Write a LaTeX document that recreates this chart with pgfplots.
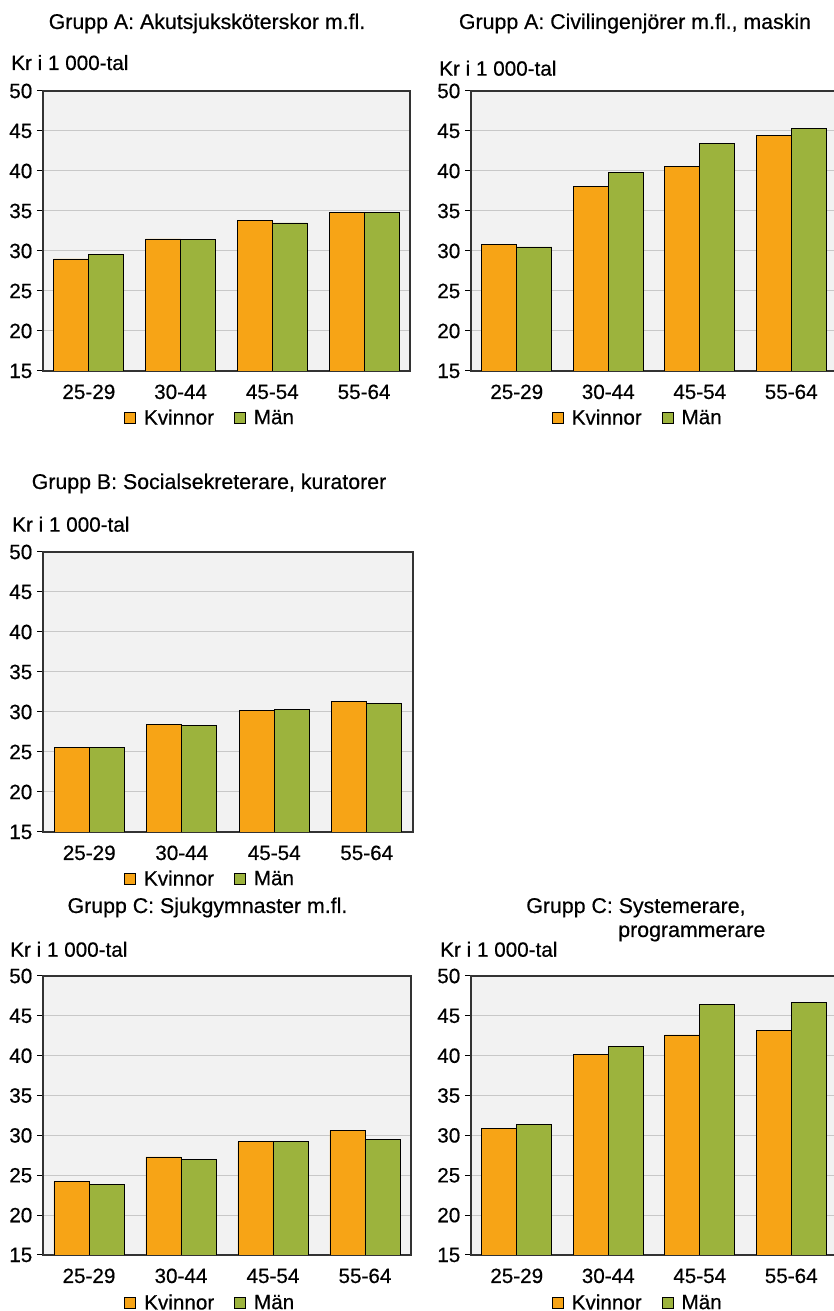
\documentclass[border=0pt]{standalone}
\usepackage{fontspec}
\setmainfont{Liberation Sans}
\newfontfamily\mf{Liberation Sans}[FakeBold=0.5]
\usepackage{pgfplots}
\pgfplotsset{compat=1.18}
\definecolor{kv}{HTML}{F7A416}
\definecolor{ma}{HTML}{9CB33D}
\definecolor{bg}{HTML}{F2F2F2}
\definecolor{gridc}{HTML}{C8C8C8}
\definecolor{framec}{HTML}{333333}
\newcommand{\fs}{\mf\fontsize{15.5}{18}\selectfont}
\newcommand{\ft}{\mf\fontsize{16}{19}\selectfont}
\pgfplotsset{
  panel/.style={
    scale only axis, height=210pt,
    ymin=15, ymax=50, ytick={15,20,...,50},
    xmin=-0.5, xmax=3.5, xtick={0,1,2,3}, xticklabels={25-29,30-44,45-54,55-64},
    ybar=0pt, bar width=26.25pt,
    axis background/.style={fill=bg},
    ymajorgrids, grid style={gridc, line width=0.75pt},
    axis line style={framec, line width=0.9pt},
    tick align=outside, major tick length=4.5pt, ytick pos=left,
    ytick style={black, line width=0.75pt},
    xtick style={draw=none},
    /pgf/number format/assume math mode=true,
    ticklabel style={font=\fs},
    xticklabel style={anchor=base, yshift=-16.5pt},
    legend style={draw=none, fill=none, font=\fs, legend columns=2, inner sep=0pt, anchor=west,
      /tikz/every odd column/.append style={column sep=4pt},
      /tikz/every even column/.append style={column sep=13pt}},
    legend image code/.code={\draw[#1, draw=black, line width=0.6pt] (0pt,-4.1pt) rectangle (8.2pt,4.1pt);},
    anchor=south west,
  },
  kvs/.style={fill=kv, draw=black, line width=0.6pt},
  mas/.style={fill=ma, draw=black, line width=0.6pt},
}
\begin{document}
\begin{tikzpicture}
\useasboundingbox (0,0) rectangle (625.5pt,983.25pt);
% Panel 1
\begin{axis}[panel, width=275.25pt, at={(32.25pt,705pt)},
  legend style={at={(0.2207,-0.168)}}]
\addplot[kvs] coordinates {(0,29.0) (1,31.5) (2,33.8) (3,34.8)};
\addplot[mas] coordinates {(0,29.6) (1,31.4) (2,33.5) (3,34.8)};
\legend{Kvinnor,Män}
\end{axis}
% Panel 2
\begin{axis}[panel, width=274.5pt, at={(353.25pt,705pt)},
  legend style={at={(0.2205,-0.168)}}]
\addplot[kvs] coordinates {(0,30.8) (1,38.1) (2,40.6) (3,44.4)};
\addplot[mas] coordinates {(0,30.5) (1,39.8) (2,43.4) (3,45.3)};
\legend{Kvinnor,Män}
\end{axis}
% Panel 3
\begin{axis}[panel, width=277.5pt, at={(32.25pt,359.25pt)},
  legend style={at={(0.219,-0.168)}}]
\addplot[kvs] coordinates {(0,25.6) (1,28.4) (2,30.2) (3,31.3)};
\addplot[mas] coordinates {(0,25.6) (1,28.3) (2,30.3) (3,31.1)};
\legend{Kvinnor,Män}
\end{axis}
% Panel 4
\begin{axis}[panel, width=276pt, height=209.25pt, at={(32.25pt,42pt)},
  legend style={at={(0.2207,-0.172)}}]
\addplot[kvs] coordinates {(0,24.2) (1,27.3) (2,29.2) (3,30.6)};
\addplot[mas] coordinates {(0,23.9) (1,27.0) (2,29.2) (3,29.5)};
\legend{Kvinnor,Män}
\end{axis}
% Panel 5
\begin{axis}[panel, width=274.5pt, height=209.25pt, at={(353.25pt,42pt)},
  legend style={at={(0.2205,-0.172)}}]
\addplot[kvs] coordinates {(0,30.9) (1,40.2) (2,42.6) (3,43.2)};
\addplot[mas] coordinates {(0,31.4) (1,41.2) (2,46.4) (3,46.7)};
\legend{Kvinnor,Män}
\end{axis}
% Titles
\node[anchor=base, inner sep=0pt, font=\ft] at (155.25pt,961.5pt) {Grupp A: Akutsjuksköterskor m.fl.};
\node[anchor=base, inner sep=0pt, font=\ft] at (476.25pt,961.5pt) {Grupp A: Civilingenjörer m.fl., maskin};
\node[anchor=base, inner sep=0pt, font=\ft] at (156.75pt,616.5pt) {Grupp B: Socialsekreterare, kuratorer};
\node[anchor=base, inner sep=0pt, font=\ft] at (155.6pt,298.5pt) {Grupp C: Sjukgymnaster m.fl.};
\node[anchor=base west, inner sep=0pt, font=\ft] at (394.5pt,298.5pt) {Grupp C: Systemerare,};
\node[anchor=base west, inner sep=0pt, font=\ft] at (463.5pt,280.5pt) {programmerare};
% Unit labels
\node[anchor=base west, inner sep=0pt, font=\fs] at (8.25pt,930.75pt) {Kr i 1 000-tal};
\node[anchor=base west, inner sep=0pt, font=\fs] at (329.25pt,926.5pt) {Kr i 1 000-tal};
\node[anchor=base west, inner sep=0pt, font=\fs] at (9pt,584.5pt) {Kr i 1 000-tal};
\node[anchor=base west, inner sep=0pt, font=\fs] at (7.5pt,265.7pt) {Kr i 1 000-tal};
\node[anchor=base west, inner sep=0pt, font=\fs] at (330pt,265.7pt) {Kr i 1 000-tal};
\end{tikzpicture}
\end{document}
